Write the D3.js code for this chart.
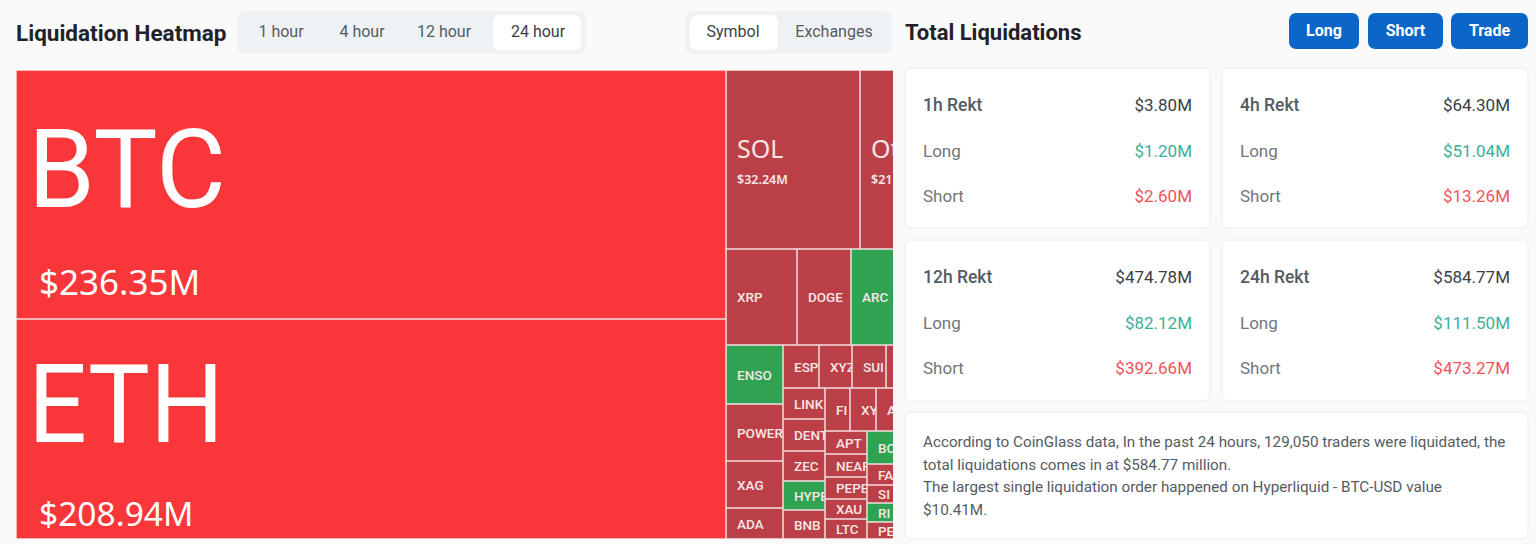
<!DOCTYPE html>
<html>
<head>
<meta charset="utf-8">
<script src="https://cdn.jsdelivr.net/npm/d3@7"></script>
<style>
html, body { margin: 0; padding: 0; background: #fafafa; overflow: hidden; }
svg { display: block; }
text { font-family: Roboto, sans-serif; }
</style>
</head>
<body>
<svg></svg>
<script>
// values in $M. Cells past the right edge are cut off so those are rough
// cut off symbols keep only the letters that can be seen
const bigSymbols = ["BTC", "ETH"]
const bigValues = [236.35, 208.94]
const majorSymbols = ["SOL", "Ot"]
const majorValues = [32.24, 21.30]
const midSymbols = ["XRP", "DOGE", "ARC"]
const midValues = [9.11, 6.93, 12.45]
const colASymbols = ["ENSO", "POWER", "XAG", "ADA"]
const colAValues = [4.57, 4.34, 3.58, 2.36]
const rowBSymbols = ["ESP", "XYZ", "SUI", ""]
const rowBValues = [2.12, 1.94, 1.94, 3.70]
const colCSymbols = ["LINK", "DENT", "ZEC", "HYPE", "BNB"]
const colCValues = [1.74, 1.80, 1.69, 1.63, 1.63]
const rowDSymbols = ["FI", "XY", "A"]
const rowDValues = [1.46, 1.46, 4.20]
const colESymbols = ["APT", "NEAR", "PEPE", "XAU", "LTC"]
const colEValues = [1.29, 1.29, 1.29, 1.12, 1.12]
const colFSymbols = ["BO", "FA", "SI", "RI", "PE"]
const colFValues = [3.57, 2.27, 2.06, 2.06, 1.84]

const greenSymbols = ["ARC", "ENSO", "HYPE", "BO", "RI"]

const periods = ["1h Rekt", "4h Rekt", "12h Rekt", "24h Rekt"]
const totals = ["$3.80M", "$64.30M", "$474.78M", "$584.77M"]
const longs = ["$1.20M", "$51.04M", "$82.12M", "$111.50M"]
const shorts = ["$2.60M", "$13.26M", "$392.66M", "$473.27M"]

const hourTabs = ["1 hour", "4 hour", "12 hour", "24 hour"]
const viewTabs = ["Symbol", "Exchanges"]
const actions = ["Long", "Short", "Trade"]
const note = [
  "According to CoinGlass data, In the past 24 hours, 129,050 traders were liquidated, the",
  "total liquidations comes in at $584.77 million.",
  "The largest single liquidation order happened on Hyperliquid - BTC-USD value",
  "$10.41M."
]

let svg = d3.select("svg")
    .attr("width", 1536)
    .attr("height", 544)

function box(x, y, w, h, fill, r, stroke) {
  return svg.append("rect")
      .attr("x", x).attr("y", y)
      .attr("width", w).attr("height", h)
      .attr("rx", r).attr("fill", fill)
      .attr("stroke", stroke || "none")
}

function label(x, y, str, size, color, weight, anchor) {
  return svg.append("text")
      .attr("x", x).attr("y", y)
      .attr("font-size", size)
      .attr("font-weight", weight || 400)
      .attr("fill", color)
      .attr("text-anchor", anchor || "start")
      .text(str)
}

// header left
label(16, 41, "Liquidation Heatmap", 22.5, "#1f2329", 700)
box(237, 11, 349, 43, "#eef2f5", 8)
box(493, 15, 88, 35, "#fff", 7)
let hourX = [281, 362, 444, 538]
hourTabs.forEach((t, i) => label(hourX[i], 37, t, 16, i == 3 ? "#3a3f45" : "#555b62", 400, "middle"))

box(685, 11, 207, 43, "#eef2f5", 8)
box(690, 15, 88, 35, "#fff", 7)
let viewX = [733, 834]
viewTabs.forEach((t, i) => label(viewX[i], 37, t, 16, i == 0 ? "#3a3f45" : "#555b62", 400, "middle"))

// header right
label(905, 40, "Total Liquidations", 22, "#1f2329", 700)
let btnX = [1289, 1368, 1451], btnW = [70, 75, 77]
actions.forEach((t, i) => {
  box(btnX[i], 13, btnW[i], 36, "#0b66c8", 7)
  label(btnX[i] + btnW[i] / 2, 36, t, 16, "#fff", 700, "middle")
})

// treemap
function group(dir, children) { return { dir: dir, children: children } }
function leaves(names, values) { return names.map((n, i) => ({ name: n, value: values[i] })) }

let root = d3.hierarchy(group("y", [
    group("y", leaves(bigSymbols, bigValues)),
    group("y", [
      group("x", leaves(majorSymbols, majorValues)),
      group("x", leaves(midSymbols, midValues)),
      group("x", [
        group("y", leaves(colASymbols, colAValues)),
        group("y", [
          group("x", leaves(rowBSymbols, rowBValues)),
          group("x", [
            group("y", leaves(colCSymbols, colCValues)),
            group("y", [
              group("x", leaves(rowDSymbols, rowDValues)),
              group("x", [
                group("y", leaves(colESymbols, colEValues)),
                group("y", leaves(colFSymbols, colFValues))
              ])
            ])
          ])
        ])
      ])
    ])
  ]))
  .sum(d => d.value || 0)

// first split is left/right, after that every group says its own direction
root.data.dir = "x"
d3.treemap()
    .size([933, 469])
    .round(true)
    .tile((node, x0, y0, x1, y1) => {
      if (node.data.dir == "x") d3.treemapDice(node, x0, y0, x1, y1)
      else d3.treemapSlice(node, x0, y0, x1, y1)
    })(root)

svg.append("clipPath").attr("id", "map-clip")
    .append("rect").attr("width", 877).attr("height", 469)

let map = svg.append("g")
    .attr("transform", "translate(16,70)")
    .attr("clip-path", "url(#map-clip)")

let cell = map.selectAll("svg")
    .data(root.leaves())
    .join("svg")
    .attr("x", d => d.x0)
    .attr("y", d => d.y0)
    .attr("width", d => d.x1 - d.x0)
    .attr("height", d => d.y1 - d.y0)

function cellColor(d) {
  if (bigSymbols.includes(d.data.name)) return "#f93639"
  if (greenSymbols.includes(d.data.name)) return "#2fa352"
  return "#bb3f47"
}

cell.append("rect")
    .attr("width", d => d.x1 - d.x0)
    .attr("height", d => d.y1 - d.y0)
    .attr("fill", cellColor)
    .attr("stroke", "#f3dfe0")
    .attr("stroke-width", 1.5)

// big two
cell.filter(d => bigSymbols.includes(d.data.name)).append("text")
    .attr("x", 12).attr("y", d => d.data.name == "BTC" ? 136.5 : 123)
    .attr("font-size", 109)
    .attr("fill", "#fff")
    .attr("textLength", d => d.data.name == "BTC" ? 198 : 196)
    .attr("lengthAdjust", "spacingAndGlyphs")
    .text(d => d.data.name)
cell.filter(d => bigSymbols.includes(d.data.name)).append("text")
    .attr("x", 23).attr("y", d => d.data.name == "BTC" ? 225 : 207)
    .attr("font-size", d => d.data.name == "BTC" ? 35 : 33.5)
    .attr("fill", "#fff")
    .style("font-family", "'Noto Sans', sans-serif")
    .text(d => "$" + d.value.toFixed(2) + "M")

// SOL and the cut off one
cell.filter(d => majorSymbols.includes(d.data.name)).append("text")
    .attr("x", 11).attr("y", 88)
    .attr("font-size", 25)
    .attr("fill", "#f6e6e6")
    .style("font-family", "'Noto Sans', sans-serif")
    .text(d => d.data.name)
cell.filter(d => majorSymbols.includes(d.data.name)).append("text")
    .attr("x", 11).attr("y", 114)
    .attr("font-size", 12.5)
    .attr("font-weight", 600)
    .attr("fill", "#f6e6e6")
    .style("font-family", "'Noto Sans', sans-serif")
    .text(d => "$" + d.value.toFixed(2) + "M")

// everything else only has a symbol
cell.filter(d => !bigSymbols.includes(d.data.name) && !majorSymbols.includes(d.data.name)).append("text")
    .attr("x", 11)
    .attr("y", d => (d.y1 - d.y0) / 2 + 5)
    .attr("font-size", 13.5)
    .attr("font-weight", 500)
    .attr("fill", "#f6e6e6")
    .text(d => d.data.name)

// cards
let cardX = [905, 1222, 905, 1222], cardY = [68, 68, 240, 240]
periods.forEach((p, i) => {
  let x = cardX[i], y = cardY[i], w = i % 2 ? 306 : 305, h = i < 2 ? 160 : 161
  box(x, y, w, h, "#fff", 6, "#ececec")
  label(x + 18, y + 43, p, 17.5, "#555b62", 500)
  label(x + w - 18, y + 43, totals[i], 17, "#3a3f45", 400, "end")
  label(x + 18, y + 89, "Long", 17, "#71767c")
  label(x + w - 18, y + 89, longs[i], 17, "#3ab09b", 400, "end")
  label(x + 18, y + 134, "Short", 17, "#71767c")
  label(x + w - 18, y + 134, shorts[i], 17, "#f0535a", 400, "end")
})

box(905, 412, 623, 127, "#fff", 6, "#ececec")
note.forEach((line, i) => label(923, 447 + i * 22.6, line, 15.25, "#555b62"))
</script>
</body>
</html>
